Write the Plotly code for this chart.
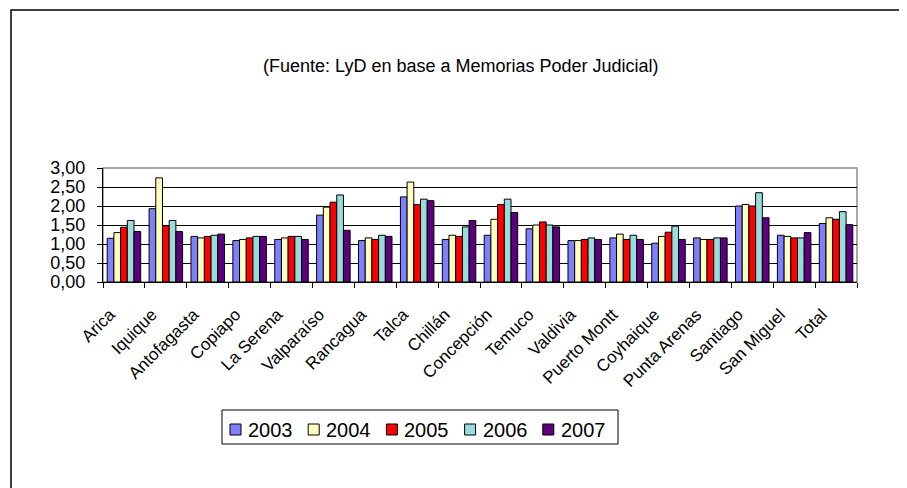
import plotly.graph_objects as go

# Categories (courts) and yearly values
cities = ["Arica", "Iquique", "Antofagasta", "Copiapo", "La Serena", "Valparaíso",
          "Rancagua", "Talca", "Chillán", "Concepción", "Temuco", "Valdivia",
          "Puerto Montt", "Coyhaique", "Punta Arenas", "Santiago", "San Miguel", "Total"]

v2003 = [1.15, 1.93, 1.20, 1.09, 1.12, 1.76, 1.09, 2.24, 1.12, 1.23, 1.40, 1.09,
         1.16, 1.02, 1.16, 2.00, 1.23, 1.54]
v2004 = [1.30, 2.74, 1.16, 1.12, 1.16, 1.97, 1.16, 2.63, 1.23, 1.65, 1.50, 1.09,
         1.26, 1.20, 1.12, 2.04, 1.20, 1.69]
v2005 = [1.44, 1.48, 1.20, 1.16, 1.20, 2.10, 1.12, 2.04, 1.20, 2.04, 1.58, 1.12,
         1.12, 1.31, 1.12, 2.00, 1.16, 1.65]
v2006 = [1.62, 1.62, 1.23, 1.20, 1.20, 2.29, 1.23, 2.18, 1.45, 2.18, 1.50, 1.16,
         1.23, 1.47, 1.16, 2.35, 1.16, 1.85]
v2007 = [1.33, 1.33, 1.26, 1.20, 1.12, 1.36, 1.20, 2.14, 1.62, 1.83, 1.45, 1.12,
         1.12, 1.12, 1.16, 1.69, 1.30, 1.51]

years = ["2003", "2004", "2005", "2006", "2007"]
series = [v2003, v2004, v2005, v2006, v2007]
colors = ["#8080FF", "#FFFFC0", "#FF0000", "#9ADCDC", "#5C007E"]

FONT = "Liberation Sans, Arial, sans-serif"

fig = go.Figure()
for year, vals, col in zip(years, series, colors):
    fig.add_trace(go.Bar(
        x=cities, y=vals, name=year, showlegend=False,
        marker=dict(color=col, line=dict(color="black", width=1))))

# the page body adds an 8px offset, so compensate in the margins
OFF = 8
# target plot area in screen pixels: x 103..857, y 168..282
L, R, T, B = 103, 857, 168, 282
def px_x(p):
    return (p - L) / (R - L)
def px_y(p):
    return (B - p) / (B - T)

shapes = [
    # plot area frame (gray top/right)
    dict(type="rect", xref="paper", yref="paper", x0=0, x1=1, y0=0, y1=1,
         line=dict(color="#8c8c8c", width=1.5), layer="below"),
    # outer chart border
    dict(type="rect", xref="paper", yref="paper",
         x0=px_x(11), x1=px_x(960), y0=px_y(540), y1=px_y(10),
         line=dict(color="black", width=1.5)),
    # legend box
    dict(type="rect", xref="paper", yref="paper",
         x0=px_x(222), x1=px_x(618), y0=px_y(444), y1=px_y(410),
         line=dict(color="black", width=1), fillcolor="white"),
]
annotations = [dict(
    text="(Fuente: LyD en base a Memorias Poder Judicial)",
    xref="paper", yref="paper", x=px_x(461), y=px_y(66),
    xanchor="center", yanchor="middle", showarrow=False,
    font=dict(size=18, family=FONT))]

# hand-made legend: square swatch + year label
for i, (year, col) in enumerate(zip(years, colors)):
    sx = 230 + i * 78.2
    shapes.append(dict(type="rect", xref="paper", yref="paper",
                       x0=px_x(sx), x1=px_x(sx + 11), y0=px_y(435), y1=px_y(424),
                       line=dict(color="black", width=1), fillcolor=col))
    annotations.append(dict(text=year, xref="paper", yref="paper",
                            x=px_x(sx + 16), y=px_y(430), xanchor="left",
                            yanchor="middle", showarrow=False,
                            font=dict(size=20, family=FONT)))

fig.update_layout(
    width=907, height=488,
    margin=dict(l=L - OFF, r=907 - R + OFF, t=T - OFF, b=488 - B + OFF,
                autoexpand=False),
    paper_bgcolor="white", plot_bgcolor="white",
    barmode="group", bargap=0.2, bargroupgap=0,
    separators=",.",
    font=dict(family=FONT, color="black"),
    shapes=shapes,
    annotations=annotations,
)

fig.update_yaxes(
    range=[0, 3], dtick=0.5, tickformat=".2f", automargin=False,
    showgrid=True, gridcolor="black", gridwidth=1,
    showline=True, linecolor="black", linewidth=1,
    ticks="outside", ticklen=5, tickcolor="black", ticklabelstandoff=8,
    tickfont=dict(size=18, family=FONT), zeroline=False)

fig.update_xaxes(
    tickangle=-45, tickson="boundaries", automargin=False,
    showline=True, linecolor="black", linewidth=1,
    ticks="outside", ticklen=5, tickcolor="black",
    ticklabelshift=-14, ticklabelstandoff=15,
    tickfont=dict(size=17, family=FONT))

fig.write_html("out.html")
